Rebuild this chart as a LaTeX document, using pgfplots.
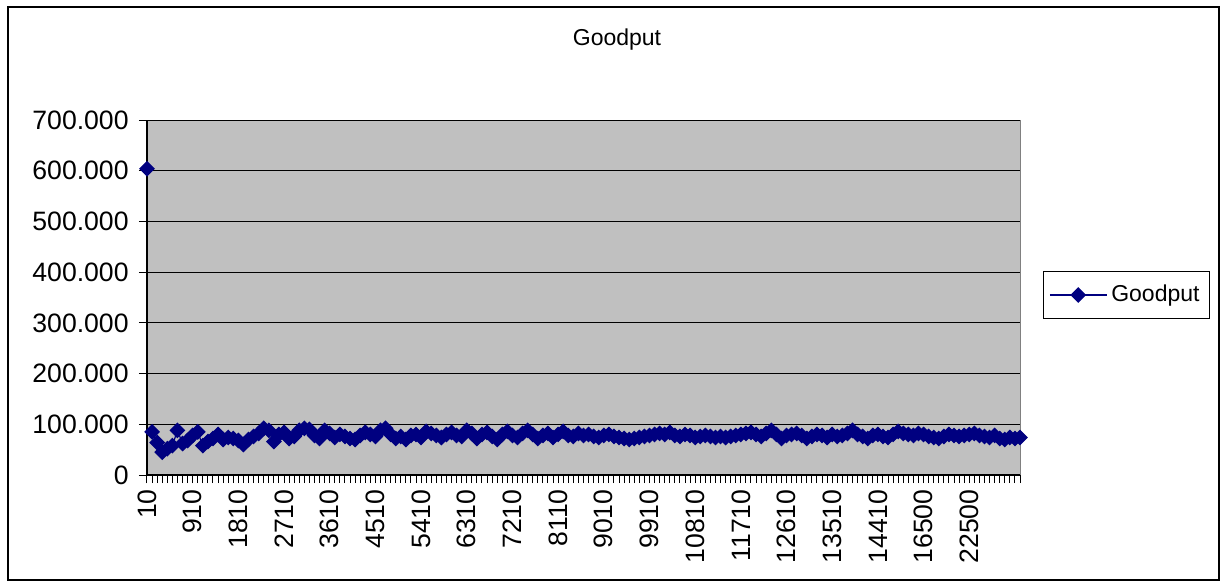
\documentclass[border=0pt]{standalone}
\usepackage{fontspec}
\setmainfont{Liberation Sans}
\usepackage{pgfplots}
\usepackage{pgfplotstable}
\pgfplotsset{compat=1.18}
\definecolor{excelnavy}{RGB}{0,0,128}
\definecolor{excelgray}{RGB}{192,192,192}
\definecolor{borderg}{RGB}{128,128,128}

% idx: category position (10, 110, 210, ... then 16500, 22500 further on)
\pgfplotstableread{
idx goodput
0 604
0.5 nan
1 85
2 64
3 45
4 52
5 58
6 88
7 62
8 68
9 78
10 85
11 58
12 66
13 72
14 80
15 70
16 74
17 72
18 68
19 60
20 70
21 76
22 82
23 92
24 88
25 66
26 80
27 84
28 72
29 76
30 88
31 92
32 90
33 78
34 72
35 88
36 82
37 74
38 80
39 76
40 72
41 70
42 78
43 84
44 80
45 76
46 88
47 92
48 80
49 72
50 76
51 70
52 78
53 80
54 74
55 86
56 82
57 78
58 74
59 80
60 84
61 78
62 76
63 88
64 82
65 72
66 80
67 84
68 76
69 70
70 80
71 86
72 78
73 74
74 82
75 88
76 80
77 72
78 78
79 82
80 74
81 80
82 86
83 78
84 76
85 82
86 78
87 80
88 76
89 74
90 78
91 80
92 76
93 74
94 72
95 70
96 72
97 74
98 76
99 78
100 80
101 82
102 80
103 84
104 78
105 76
106 80
107 78
108 74
109 76
110 78
111 76
112 74
113 76
114 74
115 76
116 78
117 80
118 82
119 84
120 80
121 76
122 82
123 88
124 80
125 72
126 78
127 80
128 82
129 78
130 72
131 76
132 80
133 78
134 74
135 80
136 76
137 78
138 82
139 88
140 80
141 76
142 72
143 78
144 80
145 76
146 74
147 80
148 86
149 82
150 80
151 78
152 82
153 80
154 76
155 74
156 72
157 76
158 80
159 78
160 76
161 78
162 80
163 82
164 78
165 76
166 74
167 78
168 72
169 70
170 74
171 72
172 74
}\goodput

\begin{document}
\begin{tikzpicture}
\useasboundingbox (-73.5pt,-55.5pt) rectangle (538pt,237.5pt);
\draw[line width=1pt] (-69.5pt,234pt) rectangle (536pt,-52.5pt);
\begin{axis}[
  at={(0,0)}, anchor=south west,
  scale only axis, width=436.5pt, height=177.5pt,
  xmin=0, xmax=172, ymin=0, ymax=700,
  axis background/.style={fill=excelgray, draw=borderg, line width=0.5pt},
  axis x line*=bottom, axis y line*=left,
  axis line style={black, line width=0.6pt, -},
  clip=false,
  xtick={0,9,...,162},
  xticklabels={10,910,1810,2710,3610,4510,5410,6310,7210,8110,9010,9910,10810,11710,12610,13510,14410,16500,22500},
  minor xtick={0,1,...,172},
  ytick={0,100,...,700},
  yticklabels={0,100.000,200.000,300.000,400.000,500.000,600.000,700.000},
  tick align=outside,
  major tick length=4pt, minor tick length=4pt,
  tick style={black, line width=0.5pt},
  ymajorgrids, grid style={black, line width=0.5pt},
  x tick label style={rotate=90, anchor=east, font=\fontsize{13.3}{15}\selectfont, inner sep=1pt},
  y tick label style={font=\fontsize{13.3}{15}\selectfont, inner sep=1pt},
  xticklabel shift=2pt, yticklabel shift=4pt,
  unbounded coords=jump,
  legend style={at={(1.026,0.507)}, anchor=west, draw=black, line width=0.5pt, fill=white,
    font=\fontsize{11.5}{13}\selectfont, inner xsep=3pt, inner ysep=5pt},
  legend cell align=left,
  legend image code/.code={\draw[mark repeat=2, mark phase=2, #1] plot coordinates {(0cm,0cm) (0.5cm,0cm) (1.0cm,0cm)};},
]
\addplot[color=excelnavy, line width=0.6pt, mark=square*, mark size=2.5pt,
  mark options={rotate=45, solid, fill=excelnavy}] table[x=idx, y=goodput] {\goodput};
\addlegendentry{Goodput}
\end{axis}
\node[font=\fontsize{11.5}{13}\selectfont] at (235pt,217.5pt) {Goodput};
\end{tikzpicture}
\end{document}
